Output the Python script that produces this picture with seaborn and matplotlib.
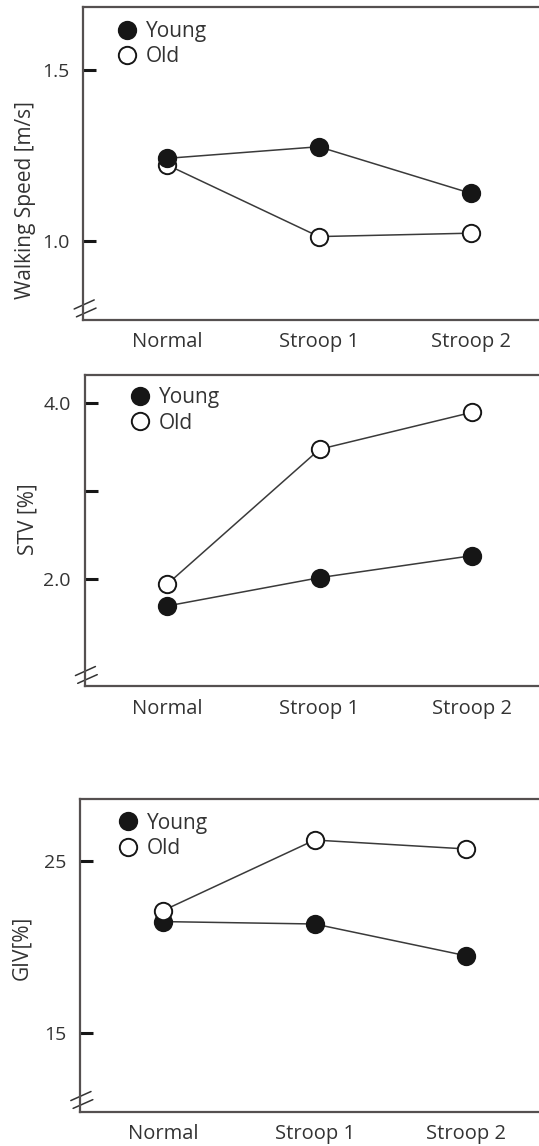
import pandas as pd
import seaborn as sns
import matplotlib.pyplot as plt
from matplotlib.lines import Line2D

# dati
conditions = ['Normal', 'Stroop 1', 'Stroop 2']
groups = ['Young', 'Old']

speed_young = [1.241, 1.275, 1.139]
speed_old = [1.222, 1.012, 1.022]

stv_young = [1.688, 2.01, 2.26]
stv_old = [1.935, 3.47, 3.89]

giv_young = [21.47, 21.33, 19.48]
giv_old = [22.11, 26.22, 25.7]

speed_ticks = [1.0, 1.5]
speed_ticklabels = ['1.0', '1.5']
stv_ticks = [2.0, 3.0, 4.0]
stv_ticklabels = ['2.0', '', '4.0']
giv_ticks = [15, 25]
giv_ticklabels = ['15', '25']

sns.set_style('white')
plt.rcParams['font.family'] = ['Open Sans', 'DejaVu Sans']

TXT = '#333333'
SPINE = '#555050'
INK = '#161616'


def make_df(young, old):
    rows = []
    for g, vals in zip(groups, [young, old]):
        for c, v in zip(conditions, vals):
            rows.append({'cond': c, 'group': g, 'val': v})
    return pd.DataFrame(rows)


def draw_panel(ax, df, xlim, ylim, ticks, ticklabels, ylabel, label_xy, legend_xy, order):
    for g in order:
        sub = df[df['group'] == g]
        face = INK if g == 'Young' else 'white'
        sns.lineplot(data=sub, x='cond', y='val', ax=ax, sort=False,
                     color='#3a3a3a', linewidth=1.1, marker='o', markersize=12.5,
                     markerfacecolor=face, markeredgecolor=INK,
                     markeredgewidth=1.4, legend=False)
    ax.set_xlim(*xlim)
    ax.set_ylim(*ylim)
    ax.set_yticks(ticks)
    ax.set_yticklabels(ticklabels)
    ax.set_xlabel('')
    ax.set_ylabel(ylabel, fontsize=15, color=TXT)
    ax.yaxis.set_label_coords(*label_xy)
    ax.tick_params(axis='y', left=True, direction='in', length=9, width=2.2, color=INK,
                   pad=10, labelsize=14, labelcolor=TXT)
    ax.tick_params(axis='x', bottom=False, length=0, pad=9, labelsize=14.5, labelcolor=TXT)
    for s in ['left', 'bottom', 'top']:
        ax.spines[s].set_color(SPINE)
        ax.spines[s].set_linewidth(1.6)
    ax.spines['right'].set_visible(False)

    # segno di interruzione dell'asse
    ax.plot([-0.020, 0.024], [0.035, 0.064], transform=ax.transAxes,
            color='#333333', linewidth=1.1, clip_on=False)
    ax.plot([-0.015, 0.028], [0.010, 0.038], transform=ax.transAxes,
            color='#333333', linewidth=1.1, clip_on=False)

    handles = [
        Line2D([], [], linestyle='none', marker='o', markersize=12.5,
               markerfacecolor=INK, markeredgecolor=INK, markeredgewidth=1.4),
        Line2D([], [], linestyle='none', marker='o', markersize=12.5,
               markerfacecolor='white', markeredgecolor=INK, markeredgewidth=1.4),
    ]
    leg = ax.legend(handles, groups, loc='upper left', bbox_to_anchor=legend_xy,
                    frameon=False, fontsize=15, handlelength=1.0, handletextpad=0.4,
                    labelspacing=0.2, borderpad=0, borderaxespad=0)
    for t in leg.get_texts():
        t.set_color(TXT)


fig = plt.figure(figsize=(5.39, 11.46), dpi=100)

ax1 = fig.add_axes([0.1545, 0.7208, 0.8455, 0.2734])
draw_panel(ax1, make_df(speed_young, speed_old), (-0.552, 2.451), (0.768, 1.685),
           speed_ticks, speed_ticklabels, 'Walking Speed [m/s]', (-0.103, 0.383),
           (0.073, 0.954), ['Old', 'Young'])

ax2 = fig.add_axes([0.1568, 0.401, 0.8432, 0.2718])
draw_panel(ax2, make_df(stv_young, stv_old), (-0.542, 2.44), (0.773, 4.315),
           stv_ticks, stv_ticklabels, 'STV [%]', (-0.102, 0.538),
           (0.100, 0.96), ['Old', 'Young'])

ax3 = fig.add_axes([0.1484, 0.0301, 0.8516, 0.2727])
draw_panel(ax3, make_df(giv_young, giv_old), (-0.548, 2.48), (10.41, 28.61),
           giv_ticks, giv_ticklabels, 'GIV[%]', (-0.103, 0.525),
           (0.082, 0.956), ['Young', 'Old'])

fig.savefig('out.png', dpi=100)
